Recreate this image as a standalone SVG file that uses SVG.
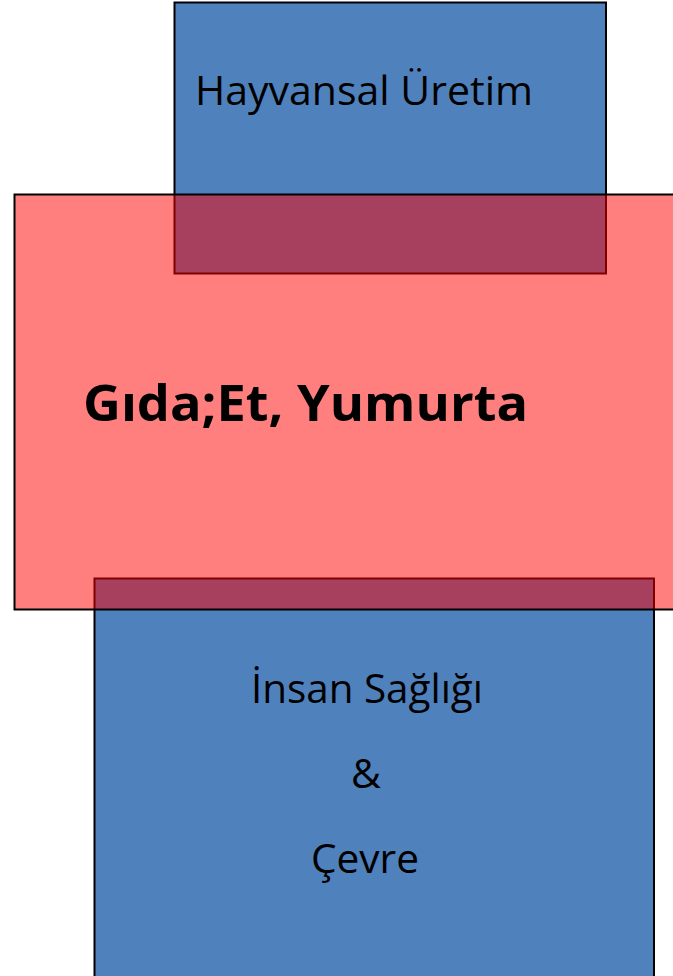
<svg xmlns="http://www.w3.org/2000/svg" width="673" height="976" viewBox="0 0 673 976">
<style>
.blue{fill:#4F81BD;stroke:#000;stroke-width:2}
.red{fill:#FF0000;fill-opacity:0.5;stroke:#000;stroke-width:2}
.t{font-family:"Open Sans","Liberation Sans",sans-serif;font-size:41px;fill:#000;text-anchor:middle}
.b{font-weight:bold;font-size:50px}
</style>
<rect width="673" height="976" fill="#fff"/>
<g id="node-hayvansal">
<rect class="blue" x="174.5" y="2.5" width="431.5" height="271"/>
<text class="t" x="364" y="105" textLength="338" lengthAdjust="spacingAndGlyphs">Hayvansal Üretim</text>
</g>
<g id="node-insan">
<rect class="blue" x="94.5" y="578.5" width="559.5" height="420"/>
<text class="t" x="367" y="703" textLength="232" lengthAdjust="spacingAndGlyphs">İnsan Sağlığı</text>
<text class="t" x="366" y="788">&amp;</text>
<text class="t" x="365" y="873" textLength="108" lengthAdjust="spacingAndGlyphs">Çevre</text>
</g>
<g id="node-gida">
<rect class="red" x="14.5" y="194.5" width="680" height="415"/>
<text class="t b" x="305.5" y="421" textLength="445" lengthAdjust="spacingAndGlyphs">Gıda;Et, Yumurta</text>
</g>
<g id="connectors"/>
</svg>
